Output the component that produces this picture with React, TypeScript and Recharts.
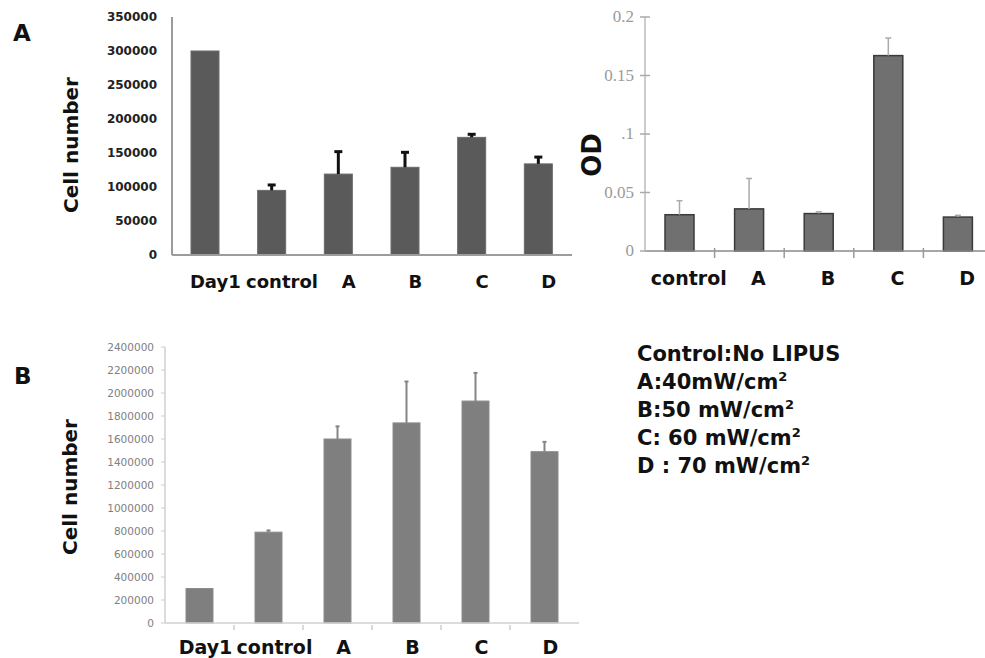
import { BarChart, Bar, XAxis, YAxis } from 'recharts';

// panel A, left: cell number
const groupsA = ['Day1', 'control', 'A', 'B', 'C', 'D'];
const cellsA = [300000, 95000, 119000, 129000, 173000, 134000];
const cellsAErr = [0, 8000, 33000, 22000, 4500, 10000];
const cellsATicks = [0, 50000, 100000, 150000, 200000, 250000, 300000, 350000];

// panel A, right: OD
const groupsOD = ['control', 'A', 'B', 'C', 'D'];
const od = [0.031, 0.036, 0.032, 0.167, 0.029];
const odErr = [0.012, 0.026, 0.0015, 0.015, 0.0015];
const odTicks = [0, 0.05, 0.1, 0.15, 0.2];
const odTickText = ['0', '0.05', '.1', '0.15', '0.2'];

// panel B: cell number
const groupsB = ['Day1', 'control', 'A', 'B', 'C', 'D'];
const cellsB = [300000, 790000, 1600000, 1740000, 1930000, 1490000];
const cellsBErr = [0, 15000, 110000, 360000, 245000, 85000];
const cellsBTicks = [0, 200000, 400000, 600000, 800000, 1000000, 1200000, 1400000,
  1600000, 1800000, 2000000, 2200000, 2400000];

const legendItems = [
  { text: 'Control:No LIPUS', sup: '' },
  { text: 'A:40mW/cm', sup: '2' },
  { text: 'B:50 mW/cm', sup: '2' },
  { text: 'C: 60 mW/cm', sup: '2' },
  { text: 'D : 70 mW/cm', sup: '2' },
];

const toRows = (names: string[], vals: number[], errs: number[]) =>
  names.map((name, i) => ({ name, value: vals[i], err: errs[i] }));

const dataA = toRows(groupsA, cellsA, cellsAErr);
const dataOD = toRows(groupsOD, od, odErr);
const dataB = toRows(groupsB, cellsB, cellsBErr);

const SANS = 'DejaVu Sans';

const AxisTitle = ({ x, y, text, size }: { x: number; y: number; text: string; size: number }) => (
  <text x={x} y={y} transform={`rotate(-90 ${x} ${y})`} textAnchor="middle" dominantBaseline="central"
    fontFamily={SANS} fontWeight="bold" fontSize={size} fill="#111">{text}</text>
);

// bar plus an upward-only error whisker, scaled from the bar's own pixel height
const barWithErr = (fill: string, stroke: string, sw: number, errColor: string, errWidth: number, capHalf: number) =>
  (p: any) => {
    const { x, y, width, height, payload } = p;
    const e = payload.err;
    const cx = x + width / 2;
    const top = e ? y - (e * height) / payload.value : y;
    return (
      <g>
        <rect x={x} y={y} width={width} height={height} fill={fill} stroke={stroke} strokeWidth={sw} />
        {e ? (
          <g stroke={errColor} strokeWidth={errWidth}>
            <line x1={cx} x2={cx} y1={y} y2={top} />
            <line x1={cx - capHalf} x2={cx + capHalf} y1={top} y2={top} />
          </g>
        ) : null}
      </g>
    );
  };

// category label, optionally with a small mark on the boundary to the right
const catTick = (size: number, dx: number, dy: number, half: number, mark: 'cross' | 'below' | null, count: number) =>
  (props: any) => {
    const { x, y, payload, index } = props;
    return (
      <g>
        {mark && index < count - 1 && (
          <line x1={x + half} x2={x + half} y1={mark === 'cross' ? y - 5 : y} y2={y + 5}
            stroke={mark === 'cross' ? '#999' : '#ccc'} strokeWidth={1.5} />
        )}
        <text x={x + dx} y={y + dy} textAnchor="middle" fontFamily={SANS} fontWeight="bold"
          fontSize={size} fill="#111">{payload.value}</text>
      </g>
    );
  };

const OdTick = (props: any) => {
  const { x, y, index } = props;
  return (
    <g>
      <line x1={x - 5} x2={x + 5} y1={y} y2={y} stroke="#aaa" strokeWidth={1.5} />
      <text x={x - 11} y={y} dy={5} textAnchor="end" fontFamily="'Liberation Serif', 'DejaVu Serif', serif"
        fontSize={17} fill="#9a9a9a">{odTickText[index]}</text>
    </g>
  );
};

export default function App() {
  return (
    <div style={{ position: 'absolute', left: 0, top: 0, width: 985, height: 658, overflow: 'hidden', background: '#fff' }}>
      <div style={{ position: 'absolute', left: 13, top: 20, fontFamily: SANS, fontWeight: 'bold', fontSize: 23, color: '#111' }}>A</div>
      <div style={{ position: 'absolute', left: 14, top: 363, fontFamily: SANS, fontWeight: 'bold', fontSize: 23, color: '#111' }}>B</div>

      {/* A: cell number */}
      <div style={{ position: 'absolute', left: 0, top: 0 }}>
        <BarChart width={600} height={300} data={dataA} margin={{ top: 17, right: 28, bottom: 15, left: 112 }}>
          <XAxis dataKey="name" height={30} interval={0} tickSize={0} tickLine={false}
            axisLine={{ stroke: '#9c9c9c', strokeWidth: 2 }}
            tick={catTick(18, 10, 31, 0, null, groupsA.length)} />
          <YAxis width={60} domain={[0, 350000]} ticks={cellsATicks} interval={0} tickLine={false}
            tickSize={6} tickMargin={9} axisLine={{ stroke: '#9c9c9c', strokeWidth: 2 }}
            tick={{ fontFamily: SANS, fontWeight: 'bold', fontSize: 12, fill: '#222' }}
            label={{ content: () => <AxisTitle x={71} y={145} text="Cell number" size={20} /> }} />
          <Bar dataKey="value" barSize={28} isAnimationActive={false}
            shape={barWithErr('#5a5a5a', '#6a6a6a', 1, '#111', 3, 4)} />
        </BarChart>
      </div>

      {/* A: OD */}
      <div style={{ position: 'absolute', left: 560, top: 0 }}>
        <BarChart width={440} height={300} data={dataOD} margin={{ top: 17, right: 7, bottom: 19, left: 45 }}>
          <XAxis dataKey="name" height={30} interval={0} tickSize={0} tickLine={false}
            axisLine={{ stroke: '#8a8a8a', strokeWidth: 1.5 }}
            tick={catTick(19, 9, 32, 34.8, 'cross', groupsOD.length)} />
          <YAxis width={40} domain={[0, 0.2]} ticks={odTicks} interval={0} tickLine={false}
            tickSize={0} tickMargin={0} axisLine={{ stroke: '#bbb', strokeWidth: 1.5 }}
            tick={OdTick}
            label={{ content: () => <AxisTitle x={32} y={155} text="OD" size={26} /> }} />
          <Bar dataKey="value" barSize={29} isAnimationActive={false}
            shape={barWithErr('#707070', '#3a3a3a', 1.5, '#aaa', 1.5, 3)} />
        </BarChart>
      </div>

      {/* B: cell number */}
      <div style={{ position: 'absolute', left: 0, top: 330 }}>
        <BarChart width={600} height={328} data={dataB} margin={{ top: 17, right: 21, bottom: 5, left: 105 }}>
          <XAxis dataKey="name" height={30} interval={0} tickSize={0} tickLine={false}
            axisLine={{ stroke: '#d0d0d0', strokeWidth: 1.5 }}
            tick={catTick(19, 6, 29, 34.5, 'below', groupsB.length)} />
          <YAxis width={60} domain={[0, 2400000]} ticks={cellsBTicks} interval={0}
            tickSize={4} tickMargin={7} tickLine={{ stroke: '#ccc' }} axisLine={{ stroke: '#d0d0d0', strokeWidth: 1.5 }}
            tick={{ fontFamily: SANS, fontSize: 10.5, fill: '#808080' }}
            label={{ content: () => <AxisTitle x={70} y={157} text="Cell number" size={20} /> }} />
          <Bar dataKey="value" barSize={27} isAnimationActive={false}
            shape={barWithErr('#7f7f7f', '#8c8c8c', 1, '#858585', 2, 2)} />
        </BarChart>
      </div>

      <div style={{ position: 'absolute', left: 637, top: 340, fontFamily: SANS, fontWeight: 'bold', fontSize: 21, lineHeight: '28px', color: '#111' }}>
        {legendItems.map(item => (
          <div key={item.text} style={{ whiteSpace: 'pre' }}>
            {item.text}
            {item.sup && <sup style={{ fontSize: 13, lineHeight: 0 }}>{item.sup}</sup>}
          </div>
        ))}
      </div>
    </div>
  );
}
